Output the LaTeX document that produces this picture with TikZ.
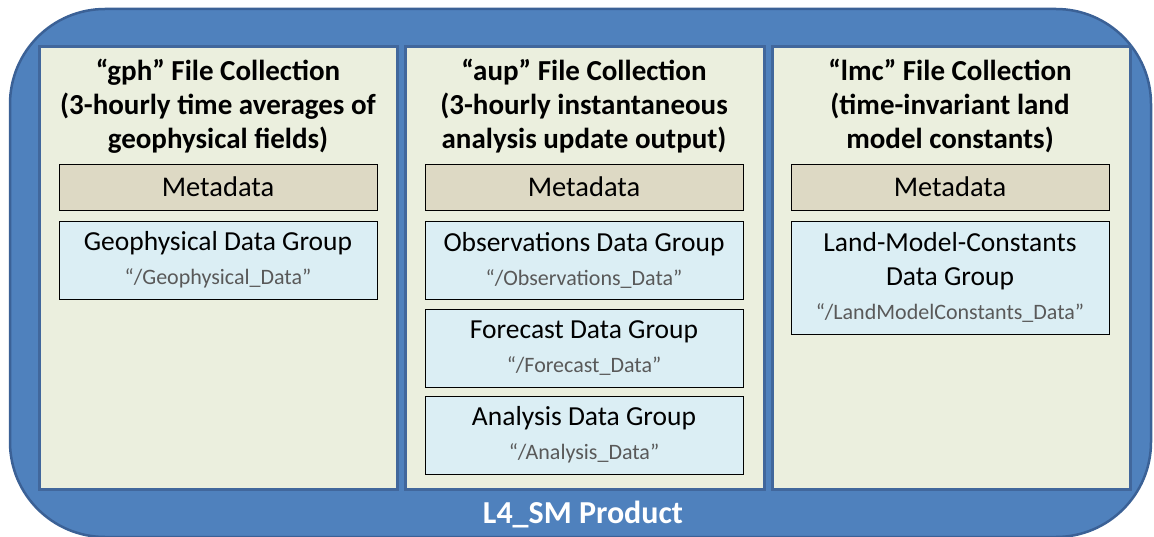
\documentclass[tikz,border=0pt]{standalone}
\usepackage{fontspec}
\setmainfont{Carlito}
\definecolor{outerfill}{HTML}{4F81BD}
\definecolor{outerline}{HTML}{3B6196}
\definecolor{colfill}{HTML}{EBEFDE}
\definecolor{colline}{HTML}{41679C}
\definecolor{metafill}{HTML}{DDD9C4}
\definecolor{grpfill}{HTML}{DBEEF4}
\definecolor{pathgray}{HTML}{595959}
\tikzset{
  outerbox/.style={fill=outerfill, draw=outerline, line width=2.5pt, rounded corners=95pt},
  colbox/.style={fill=colfill, draw=colline, line width=3pt},
  metabox/.style={fill=metafill, draw=black, line width=0.8pt, minimum width=318pt, minimum height=46pt, inner sep=0pt, font=\fontsize{28.5}{30}\selectfont},
  grpbox/.style={fill=grpfill, draw=black, line width=0.8pt, minimum width=318pt, inner sep=0pt, align=center, font=\fontsize{27.5}{34}\selectfont},
  titletxt/.style={align=center, font=\bfseries\fontsize{29}{34}\selectfont},
}
\newcommand{\pth}[1]{{\fontsize{22}{24}\selectfont\color{pathgray}#1}}
\begin{document}
\begin{tikzpicture}[x=1pt,y=-1pt]
\useasboundingbox (0,0) rectangle (1154,537);
\draw[outerbox] (10,9) rectangle (1151,537);
% columns
\draw[colbox] (39,47) rectangle (397,489);
\draw[colbox] (405,47) rectangle (764,489);
\draw[colbox] (772,47) rectangle (1130,489);
% titles
\node[titletxt] (t1) at (218,106) {“gph” File Collection\\(3-hourly time averages of\\geophysical fields)};
\node[titletxt] (t2) at (584,106) {“aup” File Collection\\(3-hourly instantaneous\\analysis update output)};
\node[titletxt] (t3) at (950,106) {“lmc” File Collection\\(time-invariant land\\model constants)};
% metadata
\node[metabox] (m1) at (218,187) {Metadata};
\node[metabox] (m2) at (584,187) {Metadata};
\node[metabox] (m3) at (950,187) {Metadata};
% groups
\node[grpbox, minimum height=78pt] (g1) at (218,260) {Geophysical Data Group\\\pth{“/Geophysical\_Data”}};
\node[grpbox, minimum height=78pt] (g2) at (584,260) {Observations Data Group\\\pth{“/Observations\_Data”}};
\node[grpbox, minimum height=78pt] (g3) at (584,348) {Forecast Data Group\\\pth{“/Forecast\_Data”}};
\node[grpbox, minimum height=78pt] (g4) at (584,435) {Analysis Data Group\\\pth{“/Analysis\_Data”}};
\node[grpbox, minimum height=113pt] (g5) at (950,277.5) {Land-Model-Constants\\Data Group\\\pth{“/LandModelConstants\_Data”}};
% product label
\node[text=white, font=\bfseries\fontsize{32}{34}\selectfont] (prod) at (583,515) {L4\_SM Product};
\end{tikzpicture}
\end{document}
